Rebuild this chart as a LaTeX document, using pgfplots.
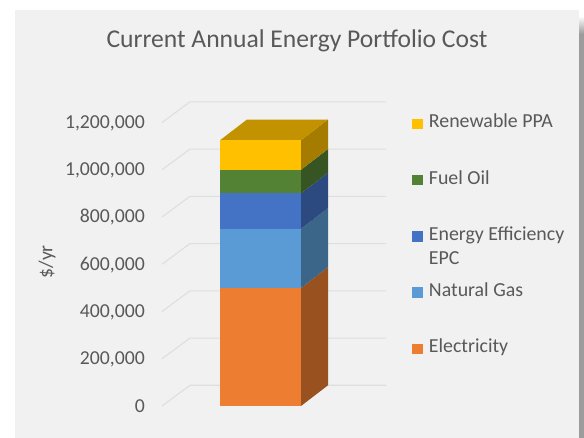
\documentclass[border=0pt]{standalone}
\usepackage{pgfplots}
\pgfplotsset{compat=1.18}
\usepackage{fontspec}
\setmainfont{Carlito}
\definecolor{txt}{HTML}{595959}
\definecolor{gridc}{HTML}{DEDEDE}
\definecolor{panel}{HTML}{F1F1F1}
\definecolor{strip}{HTML}{9C9C9C}
\definecolor{cE}{HTML}{ED7D31}\definecolor{cEs}{HTML}{9A5120}
\definecolor{cN}{HTML}{5B9BD5}\definecolor{cNs}{HTML}{3B6589}
\definecolor{cP}{HTML}{4472C4}\definecolor{cPs}{HTML}{2C4A80}
\definecolor{cF}{HTML}{548235}\definecolor{cFs}{HTML}{365522}
\definecolor{cR}{HTML}{FFC000}\definecolor{cRs}{HTML}{A67C00}\definecolor{cRt}{HTML}{C29200}
\newcommand{\rowstrut}{\rule[-4pt]{0pt}{15pt}}
\begin{document}
\begin{tikzpicture}
\useasboundingbox (0pt,0pt) rectangle (438pt,328.5pt);
% page and panel, in pixels of the reference
\begin{scope}[x=0.75pt,y=-0.75pt,yshift=328.5pt]
\fill[white] (0,0) rectangle (584,438);
\fill[panel] (15,10) rectangle (579,438);
\fill[strip] (579,34) rectangle (584,438);
\shade[top color=white,bottom color=strip] (579,16) rectangle (584,34);
\end{scope}
\begin{axis}[
  at={(121.5pt,24pt)},anchor=origin,
  scale only axis,
  width=168pt,
  height=212.6pt,
  xmin=162,xmax=386,
  ymin=0,ymax=1200000,
  clip=false,
  axis line style={draw=none},
  major tick length=0pt,
  xtick=\empty,
  scaled y ticks=false,
  ytick={0,200000,400000,600000,800000,1000000,1200000},
  yticklabels={0,{200,000},{400,000},{600,000},{800,000},{1,000,000},{1,200,000}},
  yticklabel style={font=\fontsize{14.8pt}{17pt}\selectfont,text=txt,xshift=-9.3pt,yshift=-0.3pt},
  ylabel={\$/yr},
  every axis y label/.style={at={(axis cs:47,610000)},rotate=90,anchor=center,font=\fontsize{14.8pt}{17pt}\selectfont,text=txt},
  title={Current Annual Energy Portfolio Cost},
  every axis title/.style={at={(axis cs:297,1546000)},anchor=center,font=\fontsize{19.2pt}{23pt}\selectfont,text=txt},
  legend image code/.code={\fill[#1] (0pt,-1pt) rectangle (8pt,7pt); \path (10.5pt,0pt);},
  reverse legend,
  legend style={at={(axis cs:412,1252000)},anchor=north west,draw=none,fill=none,
    font=\fontsize{14.9pt}{18pt}\selectfont,text=txt,row sep=25.7pt,inner sep=0pt,
    cells={anchor=base west}},
]
% gridlines
\addplot[forget plot,gridc,line width=0.8pt] coordinates {(162,0) (190,87700) (386,87700)};
\addplot[forget plot,gridc,line width=0.8pt] coordinates {(162,200000) (190,287700) (386,287700)};
\addplot[forget plot,gridc,line width=0.8pt] coordinates {(162,400000) (190,487700) (386,487700)};
\addplot[forget plot,gridc,line width=0.8pt] coordinates {(162,600000) (190,687700) (386,687700)};
\addplot[forget plot,gridc,line width=0.8pt] coordinates {(162,800000) (190,887700) (386,887700)};
\addplot[forget plot,gridc,line width=0.8pt] coordinates {(162,1000000) (190,1087700) (386,1087700)};
\addplot[forget plot,gridc,line width=0.8pt] coordinates {(162,1200000) (190,1287700) (386,1287700)};
% Electricity 0..500000
\addplot[forget plot,fill=cEs,draw=none] coordinates {(301,0) (328,87700) (328,587700) (301,500000)} --cycle;
\addplot[fill=cE,draw=none] coordinates {(220,0) (301,0) (301,500000) (220,500000)} --cycle;
\addlegendentry{\rowstrut Electricity}
% Natural Gas 500000..750000
\addplot[forget plot,fill=cNs,draw=none] coordinates {(301,500000) (328,587700) (328,837700) (301,750000)} --cycle;
\addplot[fill=cN,draw=none] coordinates {(220,500000) (301,500000) (301,750000) (220,750000)} --cycle;
\addlegendentry{\rowstrut Natural Gas}
% Energy Efficiency EPC 750000..900000
\addplot[forget plot,fill=cPs,draw=none] coordinates {(301,750000) (328,837700) (328,987700) (301,900000)} --cycle;
\addplot[fill=cP,draw=none] coordinates {(220,750000) (301,750000) (301,900000) (220,900000)} --cycle;
\addlegendentry{\rowstrut\smash{\parbox[t]{110pt}{Energy Efficiency\\[0pt]EPC}}}
% Fuel Oil 900000..1000000
\addplot[forget plot,fill=cFs,draw=none] coordinates {(301,900000) (328,987700) (328,1087700) (301,1000000)} --cycle;
\addplot[fill=cF,draw=none] coordinates {(220,900000) (301,900000) (301,1000000) (220,1000000)} --cycle;
\addlegendentry{\rowstrut Fuel Oil}
% Renewable PPA 1000000..1125000
\addplot[forget plot,fill=cRs,draw=none] coordinates {(301,1000000) (328,1087700) (328,1212700) (301,1125000)} --cycle;
\addplot[forget plot,fill=cRt,draw=none] coordinates {(220,1125000) (301,1125000) (328,1212700) (247,1212700)} --cycle;
\addplot[fill=cR,draw=none] coordinates {(220,1000000) (301,1000000) (301,1125000) (220,1125000)} --cycle;
\addlegendentry{\rowstrut Renewable PPA}
\end{axis}
\end{tikzpicture}
\end{document}
